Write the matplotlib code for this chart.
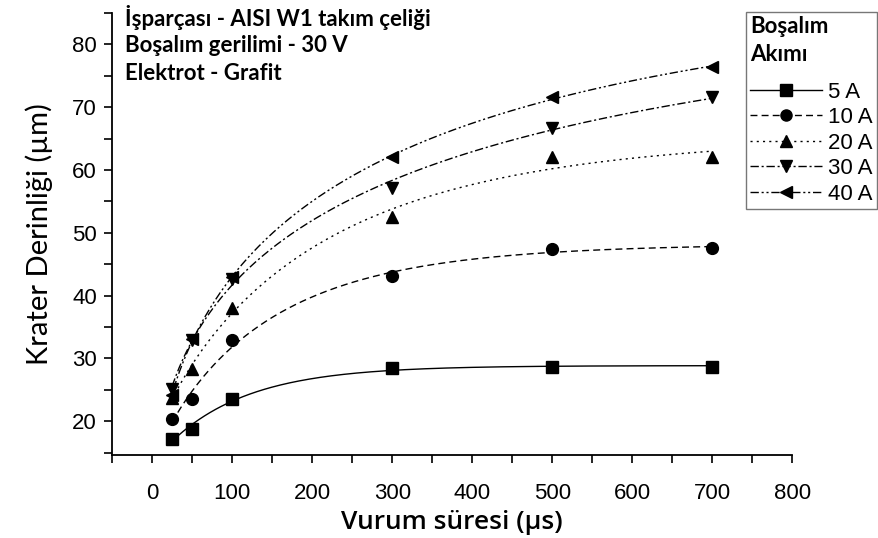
"""Krater derinliği - vurum süresi grafiği."""

import matplotlib
matplotlib.use("Agg")
import matplotlib.pyplot as plt
from matplotlib.font_manager import FontProperties
import numpy as np

# Vurum süresi (µs)
pulse_time = [25, 50, 100, 300, 500, 700]

# Krater derinliği (µm), boşalım akımına göre
depth_5a = [17.2, 18.8, 23.5, 28.5, 28.6, 28.6]
depth_10a = [20.3, 23.6, 32.9, 43.1, 47.4, 47.6]
depth_20a = [23.7, 28.3, 38.1, 52.5, 62.0, 62.1]
depth_30a = [25.1, 33.0, 42.6, 57.2, 66.7, 71.6]
depth_40a = [24.2, 33.1, 42.9, 62.1, 71.6, 76.4]

series_labels = ["5 A", "10 A", "20 A", "30 A", "40 A"]

plt.rcParams.update({
    "font.family": ["Liberation Sans", "DejaVu Sans"],
    "font.size": 16,
    "axes.linewidth": 1.3,
})


def saturating_fit(x, y):
    """Fit y = a - b*exp(-(x/c)**p) by grid search, return the curve."""
    x = np.asarray(x, float)
    y = np.asarray(y, float)
    best = None
    for p in np.linspace(0.5, 1.0, 11):
        for c in np.linspace(20, 2000, 400):
            basis = np.exp(-(x / c) ** p)
            A = np.column_stack([np.ones_like(x), -basis])
            coef, *_ = np.linalg.lstsq(A, y, rcond=None)
            err = np.sum((A @ coef - y) ** 2)
            if best is None or err < best[0]:
                best = (err, coef, c, p)
    _, (a, b), c, p = best
    return lambda t: a - b * np.exp(-(t / c) ** p)


fig = plt.figure(figsize=(8.79, 5.38), dpi=100)
ax = fig.add_axes([0.1275, 0.154, 0.774, 0.822])

styles = [
    ("s", "-"),
    ("o", (0, (5, 3))),
    ("^", (0, (1.5, 3))),
    ("v", (0, (6, 2, 1.5, 2))),
    ("<", (0, (6, 2, 1.5, 2, 1.5, 2))),
]
all_series = [depth_5a, depth_10a, depth_20a, depth_30a, depth_40a]

xs = np.linspace(pulse_time[0], pulse_time[-1], 300)
for depth, (marker, ls), label in zip(all_series, styles, series_labels):
    curve = saturating_fit(pulse_time, depth)
    ax.plot(xs, curve(xs), color="black", linestyle=ls, linewidth=1.0)
    ax.plot(pulse_time, depth, linestyle="none", marker=marker,
            markersize=8.5, color="black")
    # legend proxy
    ax.plot([], [], color="black", linestyle=ls, linewidth=1.0,
            marker=marker, markersize=8, label=label)

ax.set_xlim(-50, 800)
ax.set_ylim(14.6, 85)
ax.set_xticks(np.arange(0, 801, 100))
ax.set_xticks(np.arange(-50, 801, 50), minor=True)
ax.set_yticks(np.arange(20, 81, 10))
ax.set_yticks(np.arange(15, 86, 5), minor=True)
ax.tick_params(which="both", direction="out", length=6, width=1.2)
ax.tick_params(axis="both", labelsize=16, pad=5)
ax.tick_params(axis="x", pad=14)
ax.spines["top"].set_visible(False)
ax.spines["right"].set_visible(False)

ax.set_xlabel("Vurum süresi (µs)", fontsize=19, family="Open Sans",
              fontweight="semibold", va="center")
ax.xaxis.set_label_coords(0.5, -0.152)
ax.set_ylabel("Krater Derinliği (µm)", fontsize=21, family="Lato",
              labelpad=14)

info = ["İşparçası - AISI W1 takım çeliği",
        "Boşalım gerilimi - 30 V",
        "Elektrot - Grafit"]
for i, line in enumerate(info):
    fig.text(0.142, 0.968 - i * 0.052, line, fontsize=16, family="Lato",
             fontweight="bold", ha="left", va="center")

leg = ax.legend(title="Boşalım\nAkımı", loc="upper right",
                bbox_to_anchor=(0.998, 0.978), bbox_transform=fig.transFigure,
                fontsize=16, frameon=True, fancybox=False, edgecolor="#555555",
                handlelength=3.2, handletextpad=0.3, borderpad=0.2,
                labelspacing=0.2, borderaxespad=0)
leg.get_title().set_fontproperties(FontProperties(family="Lato", weight="bold", size=16))
leg.get_title().set_linespacing(1.4)
leg._legend_box.align = "left"
leg._legend_box.sep = 12
leg.get_frame().set_linewidth(1.0)

fig.savefig("out.png", dpi=100)
